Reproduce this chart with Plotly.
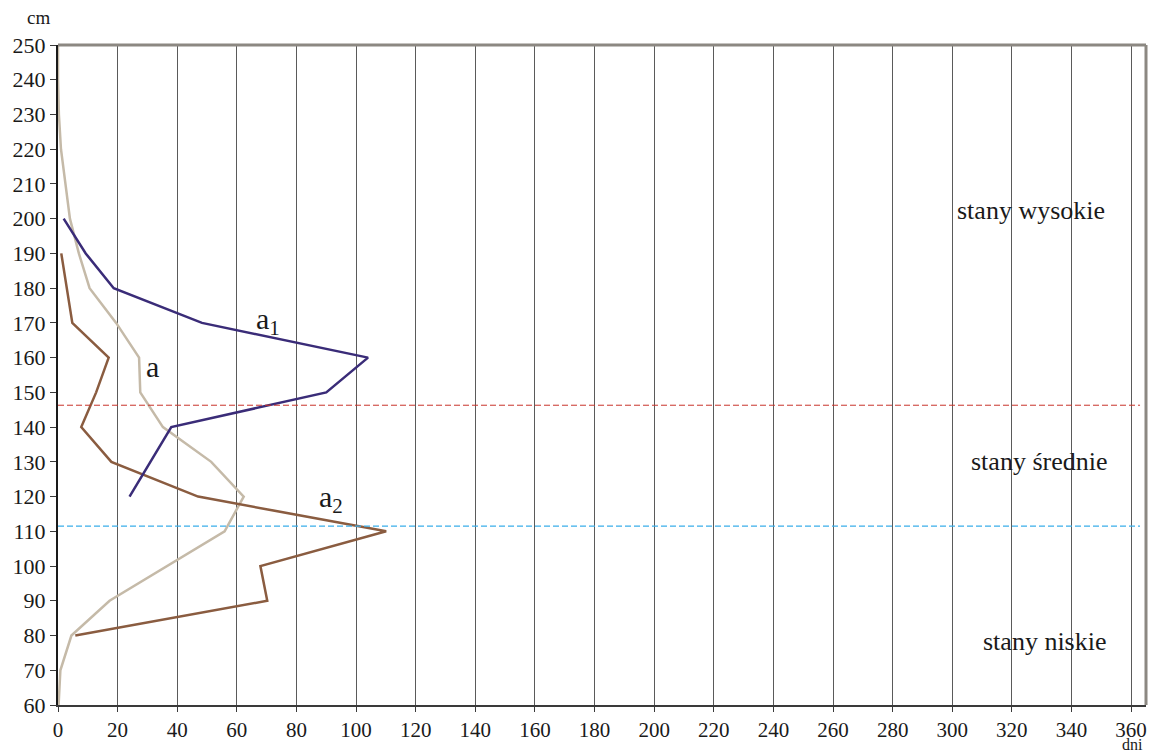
import plotly.graph_objects as go

# water stage (cm) vs. number of days
stage_a = [250, 240, 230, 220, 210, 200, 190, 180, 170, 160, 150, 140, 130, 120, 110, 100, 90, 80, 70, 60]
days_a = [0, 0, 0.3, 1, 2.5, 4, 7, 10.6, 19.5, 27.2, 27.6, 35.2, 51.4, 62.3, 55.9, 36.5, 17.3, 4.5, 0.8, 0.2]

stage_a1 = [200, 190, 180, 170, 160, 150, 140, 120]
days_a1 = [1.9, 9.3, 18.7, 48.3, 104, 90, 38, 24]

stage_a2 = [190, 170, 160, 150, 140, 130, 120, 110, 100, 90, 80]
days_a2 = [1.1, 4.8, 17, 12.8, 7.8, 17.9, 47, 110.1, 67.9, 70.2, 5.8]

# characteristic stage boundaries
high_limit = 146.3
low_limit = 111.5

x_ticks = list(range(0, 361, 20))
y_ticks = list(range(60, 251, 10))

zone_labels = ["stany wysokie", "stany średnie", "stany niskie"]
zone_x = [326.5, 329, 331]
zone_y = [202.5, 130.2, 78.4]

serif = "Liberation Serif"

fig = go.Figure()

fig.add_trace(go.Scatter(x=days_a, y=stage_a, mode="lines",
                         line=dict(color="#c5baa8", width=2.5), showlegend=False))
fig.add_trace(go.Scatter(x=days_a2, y=stage_a2, mode="lines",
                         line=dict(color="#8a5c40", width=2.5), showlegend=False))
fig.add_trace(go.Scatter(x=days_a1, y=stage_a1, mode="lines",
                         line=dict(color="#3a2c78", width=2.5), showlegend=False))

# boundary lines
fig.add_shape(type="line", xref="x", yref="y", x0=0, x1=363, y0=high_limit, y1=high_limit,
              line=dict(color="#c8322a", width=1, dash="6px,3px"), layer="above")
fig.add_shape(type="line", xref="x", yref="y", x0=0, x1=363, y0=low_limit, y1=low_limit,
              line=dict(color="#3aaeea", width=1.2, dash="6px,3px"), layer="above")

# top and right frame
fig.add_shape(type="line", xref="paper", yref="paper", x0=0, x1=1, y0=1, y1=1,
              line=dict(color="#8c8882", width=3))
fig.add_shape(type="line", xref="paper", yref="paper", x0=1, x1=1, y0=0, y1=1,
              line=dict(color="#8c8882", width=3))

# series labels
series_labels = [("a<sub>1</sub>", 70.3, 170.5), ("a", 31.8, 157.5), ("a<sub>2</sub>", 91.5, 119.2)]
for txt, xx, yy in series_labels:
    fig.add_annotation(x=xx, y=yy, text=txt, showarrow=False,
                       font=dict(family=serif, size=30, color="#1a1a1a"))

for txt, xx, yy in zip(zone_labels, zone_x, zone_y):
    fig.add_annotation(x=xx, y=yy, text=txt, showarrow=False,
                       font=dict(family=serif, size=26, color="#1a1a1a"))

# axis units
fig.add_annotation(xref="paper", yref="paper", x=-0.029, y=1.041, yanchor="middle",
                   text="cm", showarrow=False, borderpad=0,
                   font=dict(family=serif, size=19, color="#1a1a1a"))
fig.add_annotation(x=360.5, yref="paper", y=-0.0605, yanchor="middle", text="dni",
                   showarrow=False, borderpad=0,
                   font=dict(family=serif, size=16, color="#1a1a1a"))

fig.update_layout(
    width=1149, height=755,
    margin=dict(l=58, r=3, t=45, b=50),
    paper_bgcolor="white", plot_bgcolor="white",
    font=dict(family=serif, size=21, color="#1a1a1a"),
    xaxis=dict(range=[0, 365], tickvals=x_ticks, showgrid=True, gridcolor="#5a5a5a",
               gridwidth=1, zeroline=False, showline=True, linecolor="#3a3a3a", linewidth=2,
               ticks="outside", ticklen=5, tickcolor="#3a3a3a", tickwidth=1,
               tickfont=dict(family=serif, size=21)),
    yaxis=dict(range=[60, 250], tickvals=y_ticks, showgrid=False, zeroline=False,
               showline=True, linecolor="#1a1a1a", linewidth=2,
               ticks="outside", ticklen=6, tickcolor="#3a3a3a", tickwidth=1,
               tickfont=dict(family=serif, size=22)),
)

fig.write_html("out.html")
